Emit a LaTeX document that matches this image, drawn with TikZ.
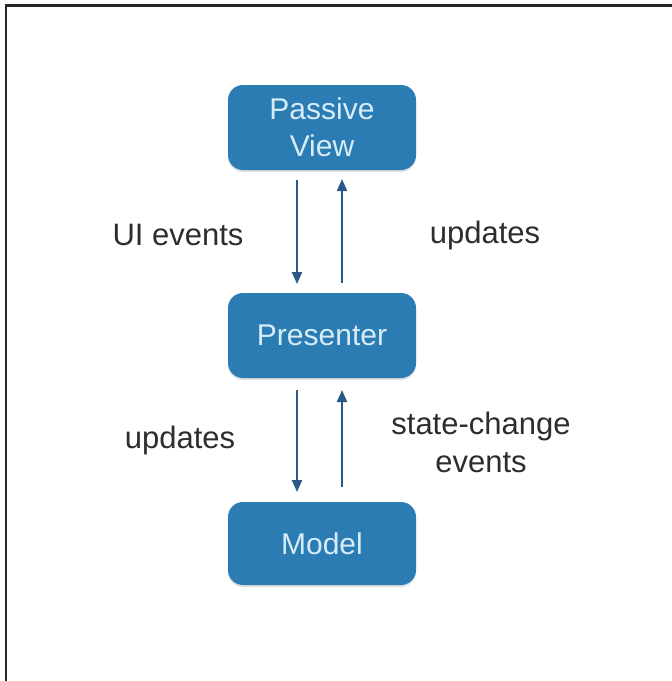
\documentclass[tikz,border=0pt]{standalone}
\usepackage{fontspec}
\setmainfont{Liberation Sans}
\usetikzlibrary{arrows.meta,shadows}
\definecolor{boxblue}{RGB}{44,124,180}
\definecolor{boxtext}{RGB}{214,236,248}
\definecolor{arrowblue}{RGB}{40,90,135}
\definecolor{labelgray}{RGB}{45,45,45}
\begin{document}
\begin{tikzpicture}[x=1pt,y=-1pt,
  block/.style={draw=none,fill=boxblue,rounded corners=15pt,minimum width=188pt,
    text=boxtext,font=\fontsize{30}{37}\selectfont,align=center,
    drop shadow={opacity=0.25,shadow xshift=0pt,shadow yshift=-2pt}},
  flow/.style={draw=arrowblue,line width=2pt,-{Triangle[width=10pt,length=12pt]}},
  lbl/.style={text=labelgray,font=\fontsize{31}{38}\selectfont,align=center},
  frame/.style={line width=2.5pt,draw=black!85}]
\useasboundingbox (0,0) rectangle (672,681);
\coordinate (tl) at (6,5.5);
\coordinate (tr) at (672,5.5);
\coordinate (bl) at (6,681);
\draw[frame] (bl) -- (tl) -- (tr);
\node[block,minimum height=85pt] (view) at (322,127.5) {Passive\\View};
\node[block,minimum height=85pt] (pres) at (322,335.5) {Presenter};
\node[block,minimum height=83pt] (model) at (322,543.5) {Model};
\coordinate (a1s) at (297,180); \coordinate (a1e) at (297,284);
\coordinate (a2s) at (342,283); \coordinate (a2e) at (342,179);
\coordinate (a3s) at (297,390); \coordinate (a3e) at (297,492);
\coordinate (a4s) at (342,487); \coordinate (a4e) at (342,390);
\draw[flow] (a1s) -- (a1e);
\draw[flow] (a2s) -- (a2e);
\draw[flow] (a3s) -- (a3e);
\draw[flow] (a4s) -- (a4e);
\node[lbl] (l1) at (178,235) {UI events};
\node[lbl] (l2) at (485,235) {updates};
\node[lbl] (l3) at (180,440) {updates};
\node[lbl] (l4) at (481,442) {state-change\\events};
\end{tikzpicture}
\end{document}
